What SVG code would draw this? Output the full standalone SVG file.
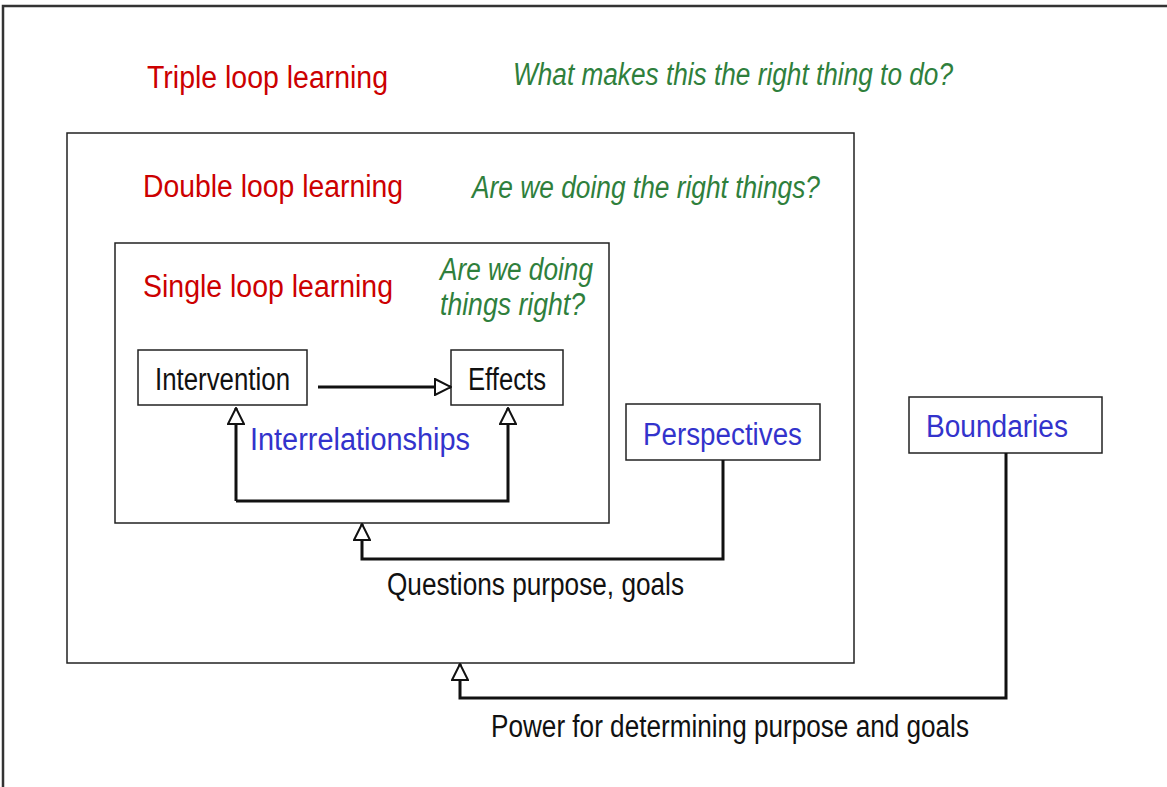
<svg xmlns="http://www.w3.org/2000/svg" width="1167" height="787" viewBox="0 0 1167 787">
<defs>
<style>
text{font-family:"Liberation Sans",Arial,sans-serif;font-size:31px}
.red{fill:#cc0000}
.green{fill:#2f7f3c;font-style:italic}
.blue{fill:#3333cc}
.blk{fill:#111}
.box{fill:#fff;stroke:#222;stroke-width:1.5}
.frame{fill:none;stroke:#222;stroke-width:1.5}
.conn{fill:none;stroke:#111;stroke-width:3;stroke-linejoin:miter}
</style>
<marker id="ah" viewBox="0 0 18 18" refX="17" refY="9" markerWidth="18" markerHeight="18" markerUnits="userSpaceOnUse" orient="auto">
<path d="M1,1 L17,9 L1,17 Z" fill="#fff" stroke="#111" stroke-width="2"/>
</marker>
</defs>
<rect width="1167" height="787" fill="#fff"/>
<g id="outer-frame">
<path d="M3,787 L3,6 L1167,6" fill="none" stroke="#333" stroke-width="2.5"/>
<text class="red" x="147" y="88" textLength="241" lengthAdjust="spacingAndGlyphs">Triple loop learning</text>
<text class="green" x="513" y="85" textLength="440" lengthAdjust="spacingAndGlyphs">What makes this the right thing to do?</text>
</g>
<g id="double-loop">
<rect class="frame" x="67" y="133" width="787" height="530"/>
<text class="red" x="143" y="197" textLength="260" lengthAdjust="spacingAndGlyphs">Double loop learning</text>
<text class="green" x="472" y="198" textLength="348" lengthAdjust="spacingAndGlyphs">Are we doing the right things?</text>
</g>
<g id="single-loop">
<rect class="frame" x="115" y="243" width="494" height="280"/>
<text class="red" x="143" y="297" textLength="250" lengthAdjust="spacingAndGlyphs">Single loop learning</text>
<text class="green" x="440" y="280" textLength="153" lengthAdjust="spacingAndGlyphs">Are we doing</text>
<text class="green" x="440" y="315" textLength="145" lengthAdjust="spacingAndGlyphs">things right?</text>
</g>
<g id="intervention">
<rect class="box" x="138" y="350" width="169" height="55"/>
<text class="blk" x="155" y="390" textLength="135" lengthAdjust="spacingAndGlyphs">Intervention</text>
</g>
<g id="effects">
<rect class="box" x="451" y="350" width="112" height="55"/>
<text class="blk" x="468" y="390" textLength="78" lengthAdjust="spacingAndGlyphs">Effects</text>
</g>
<g id="perspectives">
<rect class="box" x="626" y="404" width="194" height="56"/>
<text class="blue" x="643" y="445" textLength="159" lengthAdjust="spacingAndGlyphs">Perspectives</text>
</g>
<g id="boundaries">
<rect class="box" x="909" y="397" width="193" height="56"/>
<text class="blue" x="926" y="437" textLength="142" lengthAdjust="spacingAndGlyphs">Boundaries</text>
</g>
<g id="connectors">
<path class="conn" d="M318,387 L451,387" stroke-width="2.5" marker-end="url(#ah)"/>
<path class="conn" d="M236,501 L236,408" marker-end="url(#ah)"/>
<path class="conn" d="M236,501 L508,501 L508,408" marker-end="url(#ah)"/>
<path class="conn" d="M723,460 L723,559 L362,559 L362,524" marker-end="url(#ah)"/>
<path class="conn" d="M1006,453 L1006,698 L460,698 L460,664" marker-end="url(#ah)"/>
<text class="blue" x="250" y="450" textLength="220" lengthAdjust="spacingAndGlyphs">Interrelationships</text>
<text class="blk" x="387" y="595" textLength="297" lengthAdjust="spacingAndGlyphs">Questions purpose, goals</text>
<text class="blk" x="491" y="737" textLength="478" lengthAdjust="spacingAndGlyphs">Power for determining purpose and goals</text>
</g>
</svg>
